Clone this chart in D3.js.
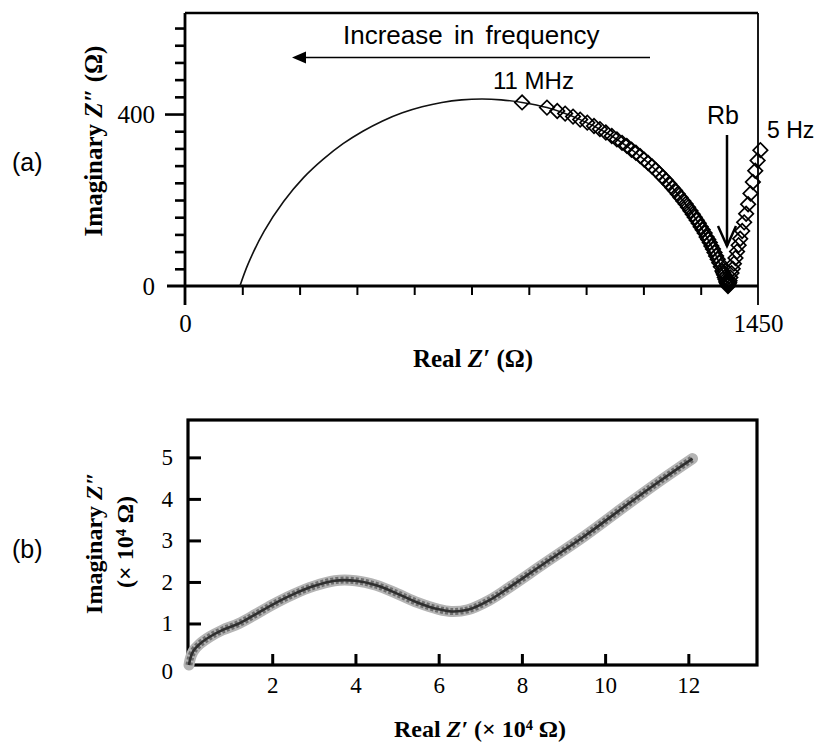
<!DOCTYPE html>
<html>
<head>
<meta charset="utf-8">
<script src="https://cdn.jsdelivr.net/npm/d3@7"></script>
<style>
  body { margin: 0; background: #fff; }
  text { fill: #000; }
</style>
</head>
<body>
<svg id="canvas" width="822" height="744"></svg>
<script>
// ---- panel (a) data: Nyquist plot, ohm ----
let fitRe = [139, 160, 200, 250, 300, 350, 400, 450, 500, 550, 600, 650, 700, 752, 800, 853, 916, 1000, 1065, 1130, 1182, 1233, 1279, 1320, 1348, 1364, 1374];
let fitIm = [0, 52, 127, 197, 252, 295, 331, 360, 384, 403, 417, 427, 433, 435, 433, 427, 415, 387, 357, 317, 278, 229, 175, 114, 62, 26, 0];

let measRe = [853, 916, 942, 962, 982, 1000, 1018, 1035, 1050, 1065, 1080, 1093, 1106, 1118, 1130, 1141, 1152, 1162, 1172, 1182,
              1191, 1200, 1209, 1217, 1225, 1233, 1240, 1247, 1254, 1261, 1267, 1273, 1279, 1285, 1290, 1295, 1300, 1305, 1310, 1315,
              1320, 1324, 1328, 1332, 1336, 1340, 1344, 1348, 1352, 1356, 1360, 1362, 1364, 1366, 1368, 1370, 1371, 1372, 1374,
              1375, 1376, 1377, 1378, 1380, 1383, 1386, 1389, 1393, 1397, 1401, 1405, 1410, 1415, 1420, 1425, 1431, 1437, 1443, 1449, 1456];
let measIm = [427, 415, 407, 401, 394, 387, 380, 372, 365, 357, 349, 341, 333, 326, 317, 310, 302, 294, 286, 278,
              270, 262, 253, 246, 238, 229, 222, 214, 206, 198, 191, 183, 175, 167, 160, 153, 146, 138, 131, 123,
              114, 108, 101, 93, 86, 78, 70, 62, 54, 45, 35, 31, 26, 20, 15, 10, 8, 5, 0,
              2, 5, 8, 12, 20, 30, 40, 52, 65, 80, 95, 110, 128, 148, 168, 190, 215, 242, 268, 292, 316];

let aYTicks = [0, 40, 80, 120, 160, 200, 240, 280, 320, 360, 400, 440, 480, 520, 560, 600];
let aYLabels = [0, 400];
let aXTicks = [0, 145, 290, 435, 580, 725, 870, 1015, 1160, 1305, 1450];
let aXLabels = [0, 1450];

// ---- panel (b) data: x 10^4 ohm ----
let bRe = [0, 0.03, 0.1, 0.25, 0.5, 0.8, 1.2, 1.6, 2.0, 2.5, 3.0, 3.5, 4.0, 4.5, 5.0, 5.5, 6.0, 6.3, 6.7, 7.2, 7.7, 8.5, 9.5, 10.5, 11.3, 12.1];
let bIm = [0, 0.15, 0.33, 0.5, 0.68, 0.84, 1.0, 1.22, 1.45, 1.7, 1.9, 2.03, 2.03, 1.92, 1.72, 1.5, 1.34, 1.29, 1.33, 1.55, 1.87, 2.42, 3.1, 3.84, 4.42, 4.97];
let bXTicks = [2, 4, 6, 8, 10, 12];
let bYTicks = [0, 1, 2, 3, 4, 5];

let canvas = d3.select("#canvas");
let serif = "'Liberation Serif', 'Times New Roman', serif";
let sans = "'Liberation Sans', Arial, sans-serif";

let drawPanelA = () => {
    let x = d3.scaleLinear().domain([0, 1450]).range([185, 758]);
    let y = d3.scaleLinear().domain([0, 635]).range([286, 13]);
    let g = canvas.append('g');

    // frame lines (open bottom, zero line instead)
    g.append('line').attr('x1', 185).attr('x2', 758).attr('y1', 13).attr('y2', 13)
        .attr('stroke', '#000').attr('stroke-width', 2.5);
    g.append('line').attr('x1', 758).attr('x2', 758).attr('y1', 13).attr('y2', y(0) + 19)
        .attr('stroke', '#000').attr('stroke-width', 1.8);
    g.append('line').attr('x1', 185).attr('x2', 185).attr('y1', 13).attr('y2', y(0) + 19)
        .attr('stroke', '#000').attr('stroke-width', 2.8);
    g.append('line').attr('x1', 167).attr('x2', 758).attr('y1', y(0)).attr('y2', y(0))
        .attr('stroke', '#000').attr('stroke-width', 3);

    // y axis ticks
    let yAxis = g.append('g').attr('transform', 'translate(185,0)')
        .call(d3.axisLeft(y).tickValues(aYTicks).tickSize(10).tickPadding(10)
            .tickFormat(d => aYLabels.includes(d) ? d : ''));
    yAxis.select('.domain').remove();
    yAxis.selectAll('line').attr('stroke-width', 2.6)
        .attr('x2', d => d === 400 ? -20 : (d === 0 ? 0 : -10));
    yAxis.selectAll('text').attr('x', -30).attr('font-family', serif).attr('font-size', 25)
        .attr('fill', '#000');

    // x axis ticks
    let xAxis = g.append('g').attr('transform', `translate(0,${y(0)})`)
        .call(d3.axisBottom(x).tickValues(aXTicks).tickSize(9)
            .tickFormat(d => aXLabels.includes(d) ? d : ''));
    xAxis.select('.domain').remove();
    xAxis.selectAll('line').attr('stroke-width', 2)
        .attr('y2', d => aXLabels.includes(d) ? 0 : 9);
    xAxis.selectAll('text').attr('y', 28).attr('font-family', serif).attr('font-size', 25)
        .attr('fill', '#000');

    // fitted arc
    let line = d3.line().x(d => x(d[0])).y(d => y(d[1])).curve(d3.curveCatmullRom);
    g.append('path').datum(d3.zip(fitRe, fitIm)).attr('d', line)
        .attr('fill', 'none').attr('stroke', '#111').attr('stroke-width', 1.6);

    // measured points (open diamonds)
    let diamond = d3.symbol().type(d3.symbolSquare).size(105);
    g.selectAll('.pt').data(d3.zip(measRe, measIm)).enter().append('path')
        .attr('class', 'pt')
        .attr('d', diamond)
        .attr('transform', d => `translate(${x(d[0])},${y(d[1])}) rotate(45)`)
        .attr('fill', 'none').attr('stroke', '#000').attr('stroke-width', 1.7);

    // annotations
    g.append('text').attr('x', 343).attr('y', 44).attr('font-family', sans).attr('font-size', 26)
        .attr('word-spacing', 4).text('Increase in frequency');
    g.append('line').attr('x1', 300).attr('x2', 650).attr('y1', 57.5).attr('y2', 57.5)
        .attr('stroke', '#000').attr('stroke-width', 1.3);
    g.append('path').attr('d', 'M292,57.5 L306,51.5 L306,63.5 Z').attr('fill', '#000');

    g.append('text').attr('x', 493).attr('y', 89).attr('font-family', sans).attr('font-size', 24)
        .text('11 MHz');
    g.append('text').attr('x', 707).attr('y', 124).attr('font-family', sans).attr('font-size', 25)
        .text('Rb');
    g.append('line').attr('x1', 727).attr('x2', 727).attr('y1', 135).attr('y2', 246)
        .attr('stroke', '#000').attr('stroke-width', 2.5);
    g.append('path').attr('d', 'M718,226 L727,246 L736,226').attr('fill', 'none')
        .attr('stroke', '#000').attr('stroke-width', 2.5);
    g.append('text').attr('x', 767).attr('y', 138).attr('font-family', sans).attr('font-size', 23)
        .text('5 Hz');

    // axis titles
    let xt = g.append('text').attr('x', 473).attr('y', 367).attr('text-anchor', 'middle')
        .attr('font-family', serif).attr('font-size', 25).attr('font-weight', 'bold');
    xt.append('tspan').text('Real ');
    xt.append('tspan').attr('font-style', 'italic').text('Z\u2032');
    xt.append('tspan').text(' (\u03A9)');

    let yt = g.append('text').attr('transform', 'translate(102,141) rotate(-90)')
        .attr('text-anchor', 'middle').attr('font-family', serif).attr('font-size', 25).attr('font-weight', 'bold');
    yt.append('tspan').text('Imaginary ');
    yt.append('tspan').attr('font-style', 'italic').text('Z\u2033');
    yt.append('tspan').text(' (\u03A9)');

    g.append('text').attr('x', 12).attr('y', 171).attr('font-family', sans).attr('font-size', 25).text('(a)');
}

let drawPanelB = () => {
    let x = d3.scaleLinear().domain([0, 13.65]).range([189, 757]);
    let y = d3.scaleLinear().domain([0, 5.9]).range([665, 420]);
    let g = canvas.append('g');

    let xAxis = g.append('g').attr('transform', 'translate(0,665)')
        .call(d3.axisBottom(x).tickValues(bXTicks).tickSize(-11).tickPadding(12).tickFormat(d3.format('d')));
    xAxis.select('.domain').remove();
    xAxis.selectAll('line').attr('stroke-width', 3);
    xAxis.selectAll('text').attr('font-family', serif).attr('font-size', 23).attr('fill', '#000');

    let yAxis = g.append('g').attr('transform', 'translate(188,0)')
        .call(d3.axisLeft(y).tickValues(bYTicks).tickSize(-13).tickPadding(15).tickFormat(d3.format('d')));
    yAxis.select('.domain').remove();
    yAxis.selectAll('line').attr('stroke-width', 3).attr('x2', d => d === 0 ? 0 : 13);
    yAxis.selectAll('text').attr('font-family', serif).attr('font-size', 23).attr('fill', '#000');
    yAxis.selectAll('.tick').filter(d => d === 0).select('text').attr('dy', '0.6em');

    g.append('rect').attr('x', 188).attr('y', 420).attr('width', 569).attr('height', 245)
        .attr('fill', 'none').attr('stroke', '#000').attr('stroke-width', 3.2);

    // blurred data trace: light halo, marker ring, dark core
    let line = d3.line().x(d => x(d[0])).y(d => y(d[1])).curve(d3.curveCatmullRom);
    let pts = d3.zip(bRe, bIm);
    g.append('path').datum(pts).attr('d', line).attr('fill', 'none')
        .attr('stroke', '#b4b4b4').attr('stroke-width', 11).attr('stroke-linecap', 'round');
    g.append('path').datum(pts).attr('d', line).attr('fill', 'none')
        .attr('stroke', '#6e6e6e').attr('stroke-width', 7).attr('stroke-dasharray', '3 2');
    g.append('path').datum(pts).attr('d', line).attr('fill', 'none')
        .attr('stroke', '#2e2e2e').attr('stroke-width', 2.6);

    let xt = g.append('text').attr('x', 480).attr('y', 737).attr('text-anchor', 'middle')
        .attr('font-family', serif).attr('font-size', 24).attr('font-weight', 'bold');
    xt.append('tspan').text('Real ');
    xt.append('tspan').attr('font-style', 'italic').text('Z\u2032');
    xt.append('tspan').text(' (\u00D7 10\u2074 \u03A9)');

    let yt = g.append('text').attr('transform', 'translate(102,543) rotate(-90)')
        .attr('text-anchor', 'middle').attr('font-family', serif).attr('font-size', 24).attr('font-weight', 'bold');
    yt.append('tspan').text('Imaginary ');
    yt.append('tspan').attr('font-style', 'italic').text('Z\u2033');
    g.append('text').attr('transform', 'translate(133,542) rotate(-90)')
        .attr('text-anchor', 'middle').attr('font-family', serif).attr('font-size', 24).attr('font-weight', 'bold')
        .text('(\u00D7 10\u2074 \u03A9)');

    g.append('text').attr('x', 12).attr('y', 558).attr('font-family', sans).attr('font-size', 25).text('(b)');
}

drawPanelA();
drawPanelB();
</script>
</body>
</html>
